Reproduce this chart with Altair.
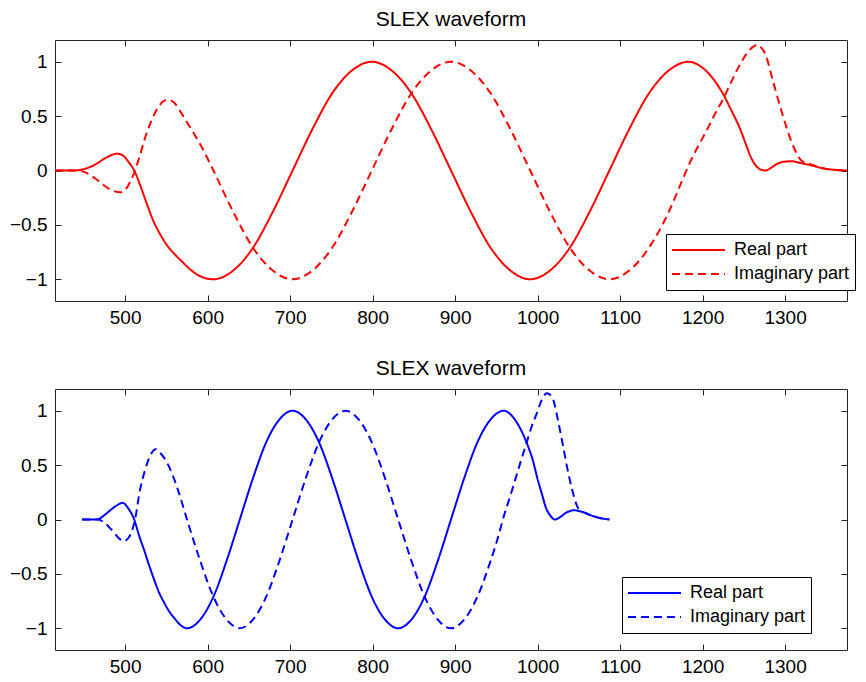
import altair as alt
import pandas as pd

PARTS = ["Real part", "Imaginary part"]
X_TICKS = [500, 600, 700, 800, 900, 1000, 1100, 1200, 1300]
Y_TICKS = [-1, -0.5, 0, 0.5, 1]
TITLE = "SLEX waveform"

# ---- top panel (red) ----
top_real_x = [415, 435, 445, 455, 465, 475, 483, 490, 497, 504, 511, 518, 526, 534, 542, 551,
              560, 568, 576, 584, 592, 600, 607, 631, 655, 679, 703, 727, 751, 775, 799, 823,
              847, 871, 895, 919, 943, 967, 991, 1015, 1039, 1063, 1087, 1111, 1135, 1159, 1183,
              1195, 1205, 1215, 1225, 1235, 1245, 1252, 1258, 1264, 1270, 1276, 1283, 1290, 1298,
              1308, 1318, 1330, 1340, 1350, 1362, 1375]
top_real_y = [0, 0, 0.005, 0.025, 0.06, 0.11, 0.14, 0.155, 0.14, 0.08, 0.0, -0.13, -0.30, -0.46,
              -0.58, -0.69, -0.77, -0.83, -0.89, -0.94, -0.975, -0.995, -1.0, -0.92, -0.71, -0.38,
              0, 0.38, 0.71, 0.92, 1, 0.92, 0.71, 0.38, 0, -0.38, -0.71, -0.92, -1, -0.92, -0.71,
              -0.38, 0, 0.38, 0.71, 0.92, 1, 0.97, 0.91, 0.82, 0.70, 0.55, 0.39, 0.25, 0.13, 0.05,
              0.01, 0.0, 0.025, 0.06, 0.08, 0.085, 0.07, 0.05, 0.03, 0.015, 0.005, 0]

top_imag_x = [415, 440, 447, 455, 465, 475, 485, 494, 501, 507, 512, 518, 525, 532, 540, 547, 553,
              560, 568, 576, 585, 594, 607, 631, 655, 679, 703, 727, 751, 775, 799, 823, 847, 871,
              895, 919, 943, 967, 991, 1015, 1039, 1063, 1087, 1111, 1135, 1159, 1172, 1185, 1195,
              1205, 1215, 1225, 1235, 1245, 1253, 1260, 1266, 1271, 1276, 1285, 1297, 1309, 1320,
              1330, 1340, 1350, 1362, 1375]
top_imag_y = [0, 0, -0.005, -0.03, -0.08, -0.14, -0.185, -0.2, -0.17, -0.09, 0, 0.14, 0.32, 0.46,
              0.58, 0.64, 0.65, 0.62, 0.53, 0.43, 0.32, 0.20, 0, -0.38, -0.71, -0.92, -1, -0.92,
              -0.71, -0.38, 0, 0.38, 0.71, 0.92, 1, 0.92, 0.71, 0.38, 0, -0.38, -0.71, -0.92, -1,
              -0.92, -0.71, -0.38, -0.15, 0.08, 0.23, 0.37, 0.52, 0.66, 0.82, 0.97, 1.07, 1.13,
              1.155, 1.13, 1.07, 0.83, 0.51, 0.24, 0.09, 0.06, 0.035, 0.015, 0.005, 0]

# ---- bottom panel (blue) ----
bot_real_x = [448, 458, 466, 474, 482, 490, 497, 504, 511, 517, 523, 529, 535, 541, 547, 553, 560,
              567, 575, 591, 607, 623, 639, 655, 671, 687, 703, 719, 735, 751, 767, 783, 799, 815,
              831, 847, 863, 879, 895, 911, 927, 943, 959, 968, 978, 987, 994, 1000, 1005, 1010,
              1015, 1021, 1027, 1034, 1044, 1054, 1064, 1075, 1087]
bot_real_y = [0, 0, 0.0, 0.035, 0.085, 0.13, 0.153, 0.10, 0.0, -0.15, -0.28, -0.42, -0.55, -0.67,
              -0.76, -0.84, -0.91, -0.97, -1, -0.92, -0.71, -0.38, 0, 0.38, 0.71, 0.92, 1, 0.92,
              0.71, 0.38, 0, -0.38, -0.71, -0.92, -1, -0.92, -0.71, -0.38, 0, 0.38, 0.71, 0.92, 1,
              0.96, 0.85, 0.70, 0.55, 0.37, 0.24, 0.11, 0.04, 0.0, 0.02, 0.06, 0.085, 0.07, 0.04,
              0.015, 0]

bot_imag_x = [448, 467, 475, 483, 491, 498, 504, 508, 512, 518, 524, 530, 537, 544, 551, 558, 565,
              575, 591, 607, 623, 639, 655, 671, 687, 703, 719, 735, 751, 767, 783, 799, 815, 831,
              847, 863, 879, 895, 911, 927, 943, 951, 959, 967, 975, 981, 987, 993, 999, 1005, 1011,
              1016, 1019, 1025, 1031, 1036, 1042, 1047, 1051, 1058, 1066, 1076, 1087]
bot_imag_y = [0, 0, -0.03, -0.09, -0.16, -0.2, -0.17, -0.11, 0, 0.27, 0.45, 0.58, 0.645, 0.6, 0.52,
              0.40, 0.25, 0.0, -0.38, -0.71, -0.92, -1, -0.92, -0.71, -0.38, 0, 0.38, 0.71, 0.92, 1,
              0.92, 0.71, 0.38, 0, -0.38, -0.71, -0.92, -1, -0.92, -0.71, -0.38, -0.19, 0.03, 0.22,
              0.42, 0.57, 0.715, 0.86, 0.976, 1.10, 1.16, 1.14, 1.10, 0.9, 0.67, 0.47, 0.27, 0.14,
              0.085, 0.06, 0.035, 0.012, 0]

FONT = "Liberation Sans"
INK = "#262626"


def panel(rx, ry, ix, iy, color, lx, ly):
    df = pd.DataFrame({
        "x": rx + ix,
        "y": ry + iy,
        "part": [PARTS[0]] * len(rx) + [PARTS[1]] * len(ix),
    })
    xs = alt.Scale(domain=[415, 1375], nice=False, zero=False)
    ys = alt.Scale(domain=[-1.2, 1.2], nice=False, zero=False)
    leg = alt.Legend(
        title=None, orient="none", legendX=lx, legendY=ly,
        symbolType="stroke", symbolSize=2809, symbolStrokeWidth=2,
        clipHeight=22, rowPadding=2, padding=5, symbolOffset=0, labelOffset=8,
        labelFont=FONT, labelFontSize=18, labelColor="black",
        strokeColor="black", fillColor="white", cornerRadius=0,
    )
    lines = alt.Chart(df).mark_line(strokeWidth=2, interpolate="monotone").encode(
        x=alt.X("x:Q", scale=xs, title=None,
                axis=alt.Axis(orient="bottom", values=X_TICKS, offset=-6, tickSize=6,
                              labelPadding=7, domain=False, grid=False, format="d")),
        y=alt.Y("y:Q", scale=ys, title=None,
                axis=alt.Axis(orient="left", values=Y_TICKS, offset=-6, tickSize=6,
                              labelPadding=8, domain=False, grid=False, format=".1~f")),
        color=alt.Color("part:N", scale=alt.Scale(domain=PARTS, range=[color, color]), legend=leg),
        strokeDash=alt.StrokeDash("part:N", scale=alt.Scale(domain=PARTS, range=[[1, 0], [8, 5]]),
                                  legend=leg),
    )
    mirror = alt.Chart(df).mark_line(opacity=0).encode(
        x=alt.X("x:Q", scale=xs, title=None,
                axis=alt.Axis(orient="top", values=X_TICKS, offset=-6, tickSize=6,
                              labels=False, domain=False, grid=False, minExtent=0, maxExtent=0)),
        y=alt.Y("y:Q", scale=ys, title=None,
                axis=alt.Axis(orient="right", values=Y_TICKS, offset=-6, tickSize=6,
                              labels=False, domain=False, grid=False, minExtent=0, maxExtent=0)),
        detail="part:N",
    )
    return alt.layer(lines, mirror).properties(
        width=792, height=261,
        title=alt.TitleParams(TITLE, fontSize=21, font=FONT, fontWeight="normal",
                              color="black", anchor="middle", baseline="top", offset=10),
    )


top = panel(top_real_x, top_real_y, top_imag_x, top_imag_y, "#ff0000", 611, 194)
bottom = panel(bot_real_x, bot_real_y, bot_imag_x, bot_imag_y, "#0000ff", 567, 188)

chart = alt.vconcat(top, bottom, spacing=29).resolve_scale(
    x="independent", y="independent", color="independent", strokeDash="independent"
).properties(
    padding={"left": 0, "top": 0, "right": 0, "bottom": 0}
).configure_view(
    stroke=INK, strokeWidth=1
).configure_axis(
    labelFont=FONT, labelFontSize=19, labelColor="black", tickColor=INK, tickWidth=1,
    minExtent=0
)

chart.save("out.html", embed_options={"renderer": "svg", "actions": False})
